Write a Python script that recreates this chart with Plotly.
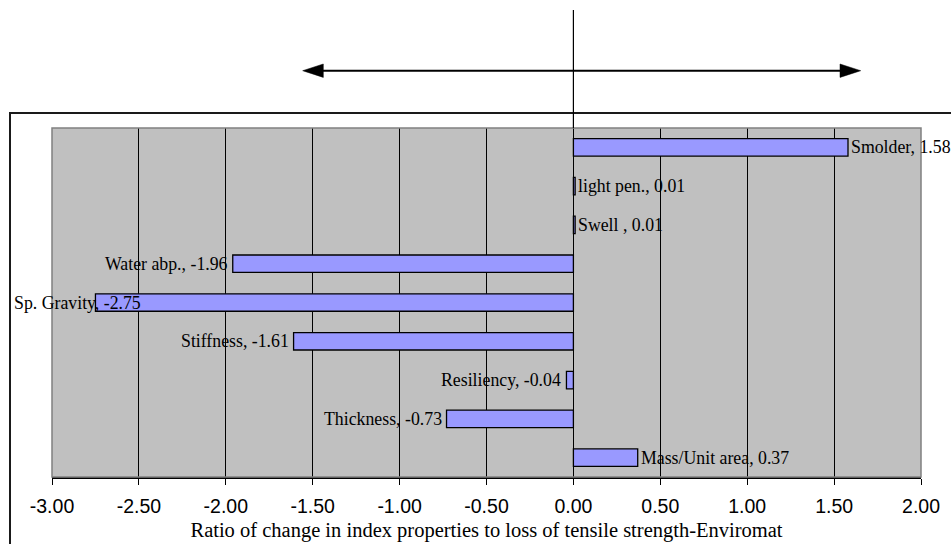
import plotly.graph_objects as go

# Index properties and their ratio of change to loss of tensile strength
properties = ["Smolder", "light pen.", "Swell ", "Water abp.", "Sp. Gravity",
              "Stiffness", "Resiliency", "Thickness", "Mass/Unit area"]
ratios = [1.58, 0.01, 0.01, -1.96, -2.75, -1.61, -0.04, -0.73, 0.37]

tick_values = [-3.0, -2.5, -2.0, -1.5, -1.0, -0.5, 0.0, 0.5, 1.0, 1.5, 2.0]
tick_labels = ["-3.00", "-2.50", "-2.00", "-1.50", "-1.00", "-0.50",
               "0.00", "0.50", "1.00", "1.50", "2.00"]

axis_title = "Ratio of change in index properties to loss of tensile strength-Enviromat"

W, H = 951, 544
ML, MR, MT, MB = 52, 30, 128, 67
PW = W - ML - MR
PH = H - MT - MB


def px_x(px):
    """Pixel column -> paper x."""
    return (px - ML) / PW


def px_y(py):
    """Pixel row -> paper y."""
    return (H - MB - py) / PH


SERIF = "Liberation Serif, Times New Roman, serif"
SANS = "Liberation Sans, Arial, sans-serif"

fig = go.Figure()
fig.add_trace(go.Bar(
    x=ratios,
    y=properties,
    orientation="h",
    width=0.45,
    marker=dict(color="#9999FF", line=dict(color="black", width=1.3)),
    hoverinfo="x+y",
    showlegend=False,
))

# Data labels: "name, value" next to the end of each bar
annotations = []
x_min = tick_values[0]
for name, val in zip(properties, ratios):
    text = f"{name}, {val:.2f}"
    common = dict(text=text, showarrow=False, yref="y", y=name,
                  font=dict(family=SERIF, size=17.8, color="black"))
    if val >= 0:
        annotations.append(dict(x=val, xref="x", xanchor="left", xshift=1, **common))
    elif val < x_min + 0.5:
        # too close to the left edge: pull the label inside the chart area
        annotations.append(dict(x=px_x(12), xref="paper", xanchor="left", **common))
    else:
        annotations.append(dict(x=val, xref="x", xanchor="right", xshift=-3, **common))

shapes = [
    # plot-area frame (grey edges)
    dict(type="rect", xref="paper", yref="paper", x0=0, x1=1, y0=0, y1=1,
         line=dict(color="#808080", width=1.5), layer="above"),
    # outer chart border
    dict(type="rect", xref="paper", yref="paper",
         x0=px_x(10), x1=px_x(960), y0=px_y(552), y1=px_y(113),
         line=dict(color="#1a1a1a", width=2), layer="above"),
    # vertical marker above zero
    dict(type="line", xref="x", yref="paper", x0=0, x1=0,
         y0=px_y(10), y1=1, line=dict(color="black", width=1.2)),
    # double-headed arrow shaft
    dict(type="line", xref="paper", yref="paper",
         x0=px_x(320), x1=px_x(842), y0=px_y(70.7), y1=px_y(70.7),
         line=dict(color="black", width=2)),
    # left arrowhead
    dict(type="path", xref="paper", yref="paper",
         path=(f"M {px_x(302.7)} {px_y(70.7)} L {px_x(323.3)} {px_y(64)} "
               f"L {px_x(323.3)} {px_y(77.4)} Z"),
         fillcolor="black", line=dict(color="black", width=0.5)),
    # right arrowhead
    dict(type="path", xref="paper", yref="paper",
         path=(f"M {px_x(860.7)} {px_y(70.7)} L {px_x(840)} {px_y(64)} "
               f"L {px_x(840)} {px_y(77.4)} Z"),
         fillcolor="black", line=dict(color="black", width=0.5)),
]

fig.update_layout(
    width=W, height=H,
    margin=dict(l=ML, r=MR, t=MT, b=MB, pad=0),
    paper_bgcolor="white",
    plot_bgcolor="#C0C0C0",
    bargap=0.55,
    annotations=annotations,
    shapes=shapes,
    xaxis=dict(
        range=[tick_values[0], tick_values[-1]],
        tickvals=tick_values,
        ticktext=tick_labels,
        tickfont=dict(family=SANS, size=19.5, color="black"),
        ticks="outside", ticklen=6, tickcolor="black", tickwidth=1,
        ticklabelstandoff=5,
        showgrid=True, gridcolor="black", gridwidth=1,
        showline=True, linecolor="black", linewidth=1.5,
        zeroline=False,
        title=dict(text=axis_title, standoff=6,
                   font=dict(family=SERIF, size=20.5, color="black")),
        automargin=False,
        fixedrange=True,
    ),
    yaxis=dict(
        categoryorder="array", categoryarray=properties,
        autorange="reversed",
        showticklabels=False, ticks="",
        showgrid=False, zeroline=False, showline=False,
        automargin=False,
        fixedrange=True,
    ),
)

fig.write_html("out.html")
